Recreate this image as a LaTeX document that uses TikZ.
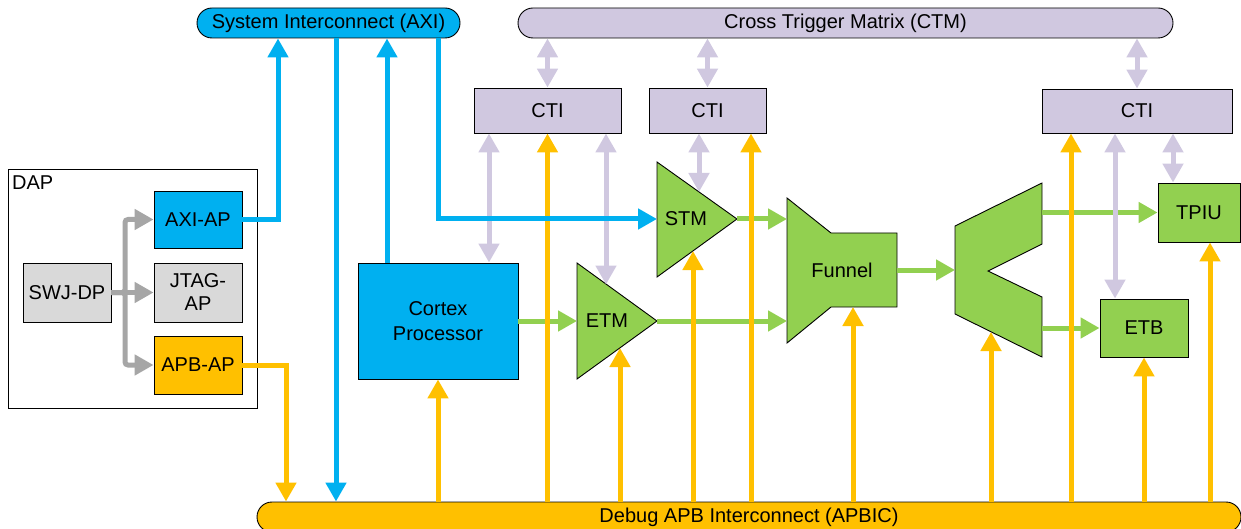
\documentclass[tikz,border=0pt]{standalone}
\usepackage{fontspec}
\setmainfont{Liberation Sans}
\usetikzlibrary{arrows.meta}
\definecolor{cyanb}{HTML}{00B0F0}
\definecolor{orangeb}{HTML}{FFC000}
\definecolor{greenb}{HTML}{92D050}
\definecolor{lavb}{RGB}{208,200,224}
\definecolor{grayarrow}{HTML}{A6A6A6}
\definecolor{graybox}{HTML}{D9D9D9}
\begin{document}
\begin{tikzpicture}[x=1pt,y=-1pt,
  font=\fontsize{20}{23}\selectfont,
  >={Triangle[width=20pt,length=19pt]},
  box/.style={draw=black, line width=0.9pt, inner sep=0pt, align=center},
  bar/.style={box, rounded corners=15pt, minimum height=30pt},
  shp/.style={draw=black, line width=0.9pt, fill=greenb, line join=miter},
  conn/.style={line width=5pt},
  carr/.style={conn, draw=cyanb, ->},
  oarr/.style={conn, draw=orangeb, ->},
  garr/.style={conn, draw=greenb, ->},
  larr/.style={conn, draw=lavb, <->},
  grarr/.style={conn, draw=grayarrow, ->, rounded corners=3pt}
]
\useasboundingbox (0,0) rectangle (1241,529);

% bars
\node[bar, fill=cyanb, minimum width=263pt] (axi) at (328.5,23) {System Interconnect (AXI)};
\node[bar, fill=lavb, minimum width=655pt] (ctm) at (845.5,23) {Cross Trigger Matrix (CTM)};
\node[bar, fill=orangeb, minimum width=984pt] (apb) at (749,517) {Debug APB Interconnect (APBIC)};

% DAP
\node[box, fill=white, minimum width=249pt, minimum height=239pt] (dap) at (132.5,288.5) {};
\node[anchor=base west, inner sep=0pt] (daplabel) at (12,189.5) {DAP};
\node[box, fill=cyanb, minimum width=88pt, minimum height=57pt] (axiap) at (198,219.5) {AXI-AP};
\node[box, fill=graybox, minimum width=88pt, minimum height=59pt] (jtag) at (198,292.5) {JTAG-\\AP};
\node[box, fill=orangeb, minimum width=88pt, minimum height=58pt] (apbap) at (198,365) {APB-AP};
\node[box, fill=graybox, minimum width=88pt, minimum height=59pt] (swj) at (67,292.5) {SWJ-DP};
\coordinate (trunk) at (125,292.5);

% CTIs
\node[box, fill=lavb, minimum width=147pt, minimum height=45pt] (cti1) at (547.5,110.5) {CTI};
\node[box, fill=lavb, minimum width=117pt, minimum height=45pt] (cti2) at (707.5,110.5) {CTI};
\node[box, fill=lavb, minimum width=190pt, minimum height=44pt] (cti3) at (1137,111) {CTI};
\coordinate (cti2o) at ([xshift=43.5pt]cti2.south);
\coordinate (cti3o) at ([xshift=-66pt]cti3.south);

% Cortex
\node[box, fill=cyanb, minimum width=160pt, minimum height=116pt, font=\fontsize{20}{25}\selectfont] (cortex) at (438,321) {Cortex\\Processor};

% STM, ETM
\draw[shp] (657,162) -- (737,219) -- (657,277) -- cycle;
\node (stm) at (686,219) {STM};
\draw[shp] (577,263) -- (657,321) -- (577,379) -- cycle;
\node (etm) at (607,321) {ETM};
\coordinate (stmW) at (657,219);
\coordinate (stmE) at (737,219);
\coordinate (stmT) at (699,192);
\coordinate (stmB) at (693,251);
\coordinate (etmW) at (577,321);
\coordinate (etmE) at (657,321);
\coordinate (etmT) at (606,284.5);
\coordinate (etmB) at (620,348);

% Funnel
\draw[shp] (787,198) -- (831,233) -- (897,233) -- (897,307) -- (831,307) -- (787,343) -- cycle;
\node (funnel) at (842,270) {Funnel};
\coordinate (funW1) at (787,219);
\coordinate (funW2) at (787,321);
\coordinate (funE) at (897,270);
\coordinate (funB) at (853,307);

% Replicator
\draw[shp] (955,226) -- (1042,183) -- (1042,244) -- (988,271) -- (1042,297) -- (1042,357) -- (955,314) -- cycle;
\coordinate (repW) at (955,270);
\coordinate (repE1) at (1042,212.5);
\coordinate (repE2) at (1042,328);
\coordinate (repB) at (991,332);

% TPIU, ETB
\node[box, fill=greenb, minimum width=82pt, minimum height=59pt] (tpiu) at (1199,212.5) {TPIU};
\node[box, fill=greenb, minimum width=88pt, minimum height=58pt] (etb) at (1144,328) {ETB};
\coordinate (tpiuo) at ([xshift=11pt]tpiu.south);

% gray DAP arrows
\draw[grarr] (swj.east) -- (trunk) |- (axiap.west);
\draw[grarr] (swj.east) -- (jtag.west);
\draw[grarr] (swj.east) -- (trunk) |- (apbap.west);

% green trace arrows
\draw[garr] (cortex.east) -- (etmW);
\draw[garr] (etmE) -- (funW2);
\draw[garr] (stmE) -- (funW1);
\draw[garr] (funE) -- (repW);
\draw[garr] (repE1) -- (tpiu.west);
\draw[garr] (repE2) -- (etb.west);

% lavender trigger arrows
\draw[larr] (ctm.south -| cti1.north) -- (cti1.north);
\draw[larr] (ctm.south -| cti2.north) -- (cti2.north);
\draw[larr] (ctm.south -| cti3.north) -- (cti3.north);
\draw[larr] ([xshift=-58.5pt]cti1.south) -- ([xshift=51pt]cortex.north);
\draw[larr] ([xshift=58.5pt]cti1.south) -- (etmT);
\draw[larr] ([xshift=-8.5pt]cti2.south) -- (stmT);
\draw[larr] ([xshift=-22pt]cti3.south) -- ([xshift=-29pt]etb.north);
\draw[larr] ([xshift=36pt]cti3.south) -- ([xshift=-26pt]tpiu.north);

% orange APB arrows
\draw[oarr] (apbap.east) -| ([xshift=-463pt]apb.north);
\draw[oarr] (apb.north -| cortex.south) -- (cortex.south);
\draw[oarr] (apb.north -| cti1.south) -- (cti1.south);
\draw[oarr] (apb.north -| etmB) -- (etmB);
\draw[oarr] (apb.north -| stmB) -- (stmB);
\draw[oarr] (apb.north -| cti2o) -- (cti2o);
\draw[oarr] (apb.north -| funB) -- (funB);
\draw[oarr] (apb.north -| repB) -- (repB);
\draw[oarr] (apb.north -| cti3o) -- (cti3o);
\draw[oarr] (apb.north -| etb.south) -- (etb.south);
\draw[oarr] (apb.north -| tpiuo) -- (tpiuo);

% cyan AXI connections
\draw[carr] (axiap.east) -| ([xshift=-50.5pt]axi.south);
\draw[carr] ([xshift=7.5pt]axi.south) -- ([xshift=-413pt]apb.north);
\draw[carr] ([xshift=-51pt]cortex.north) -- ([xshift=58.5pt]axi.south);
\draw[carr] ([xshift=109.5pt]axi.south) |- (stmW);
\end{tikzpicture}
\end{document}
